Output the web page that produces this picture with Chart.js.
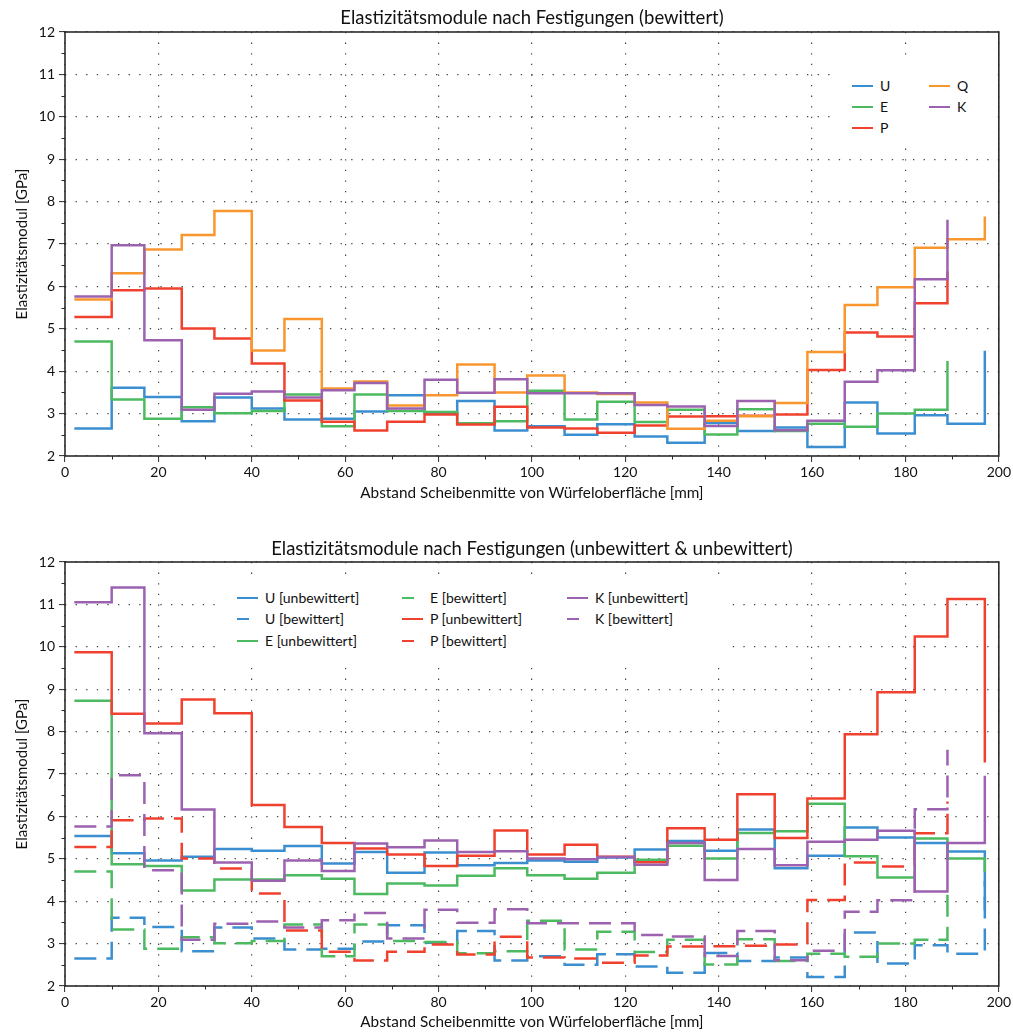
<!DOCTYPE html>
<html>
<head>
<meta charset="utf-8">
<script src="https://cdn.jsdelivr.net/npm/chart.js@4.4.1/dist/chart.umd.min.js"></script>
<style>
  body { margin: 0; background: #fff; font-family: Lato, "Open Sans", sans-serif; }
  #wrap { position: relative; width: 1013px; height: 1032px; overflow: hidden; }
  .pane { position: absolute; left: 0; width: 1013px; height: 516px; }
  .legbox { position: absolute; background: #fff; }
  .sw { position: absolute; height: 0; }
  .lt { position: absolute; font-size: 14px; color: #111; white-space: nowrap; line-height: 16px; }
  .ttl { position: absolute; left: 232px; width: 600px; text-align: center; font-size: 18.5px; line-height: 22px; color: #111; white-space: nowrap; }
</style>
</head>
<body>
<div id="wrap">
  <div class="pane" style="top:0"><canvas id="chartTop" width="1013" height="516"></canvas></div>
  <div class="pane" style="top:516px"><canvas id="chartBottom" width="1013" height="516"></canvas></div>
  <div class="ttl" style="top:6px">Elastizitätsmodule nach Festigungen (bewittert)</div>
  <div class="ttl" style="top:537px">Elastizitätsmodule nach Festigungen (unbewittert &amp; unbewittert)</div>
  <div class="legbox" style="left:838px;top:62px;width:158px;height:80px"></div>
  <div class="legbox" style="left:222px;top:580px;width:510px;height:82px"></div>
  <div id="legends"></div>
</div>
<script>
// ===== Daten =====
// Scheibenposition (Beginn jeder Stufe) in mm
var xPos = [2, 10, 17, 25, 32, 40, 47, 55, 62, 69, 77, 84, 92, 99, 107, 114, 122, 129, 137, 144, 152, 159, 167, 174, 182, 189, 197];
var xTickLabels = [0, 20, 40, 60, 80, 100, 120, 140, 160, 180, 200];
var yTickLabels = [2, 3, 4, 5, 6, 7, 8, 9, 10, 11, 12];
var xMinor = [10, 30, 50, 70, 90, 110, 130, 150, 170, 190];
var yMinor = [2.5, 3.5, 4.5, 5.5, 6.5, 7.5, 8.5, 9.5, 10.5, 11.5];

// bewittert
var uBew = [2.65, 3.61, 3.39, 2.82, 3.38, 3.12, 2.86, 2.88, 3.05, 3.43, 3.02, 3.30, 2.60, 2.70, 2.50, 2.75, 2.46, 2.31, 2.78, 2.59, 2.67, 2.21, 3.26, 2.53, 2.96, 2.76, 4.48];
var eBew = [4.70, 3.33, 2.88, 3.15, 3.01, 3.06, 3.45, 2.70, 3.45, 3.06, 3.04, 2.77, 2.82, 3.54, 2.86, 3.28, 2.80, 3.09, 2.51, 3.10, 2.59, 2.76, 2.69, 3.00, 3.09, 4.24];
var pBew = [5.28, 5.91, 5.95, 5.01, 4.77, 4.18, 3.31, 2.81, 2.60, 2.81, 2.98, 2.74, 3.16, 2.67, 2.65, 2.55, 2.72, 2.93, 2.94, 2.95, 2.98, 4.03, 4.91, 4.82, 5.60, 6.35];
var qBew = [5.69, 6.31, 6.87, 7.21, 7.78, 4.49, 5.23, 3.59, 3.76, 3.19, 3.43, 4.16, 3.50, 3.90, 3.50, 3.46, 3.26, 2.64, 2.83, 2.94, 3.25, 4.45, 5.56, 5.98, 6.91, 7.11, 7.65];
var kBew = [5.76, 6.97, 4.73, 3.09, 3.47, 3.52, 3.38, 3.55, 3.72, 3.12, 3.80, 3.49, 3.81, 3.48, 3.48, 3.48, 3.20, 3.17, 2.71, 3.30, 2.61, 2.83, 3.75, 4.02, 6.17, 7.57];

// unbewittert
var uUnb = [5.54, 5.13, 4.96, 5.05, 5.23, 5.19, 5.30, 4.89, 5.16, 4.67, 5.15, 4.85, 4.90, 4.96, 4.93, 5.03, 5.22, 5.42, 5.19, 5.69, 4.78, 5.07, 5.74, 5.50, 5.37, 5.17, 3.79];
var eUnb = [8.73, 4.87, 4.83, 4.25, 4.51, 4.51, 4.61, 4.53, 4.17, 4.42, 4.37, 4.60, 4.78, 4.61, 4.53, 4.67, 4.98, 5.31, 5.01, 5.61, 5.65, 6.30, 5.06, 4.56, 5.48, 5.01, 4.69];
var pUnb = [9.87, 8.42, 8.19, 8.76, 8.43, 6.27, 5.75, 5.37, 5.24, 5.10, 4.83, 5.07, 5.67, 5.10, 5.33, 5.05, 4.92, 5.72, 5.45, 6.52, 5.49, 6.42, 7.94, 8.93, 10.24, 11.13, 7.27];
var kUnb = [11.05, 11.40, 7.96, 6.16, 4.91, 4.48, 4.96, 4.71, 5.36, 5.27, 5.43, 5.16, 5.18, 5.01, 4.99, 5.04, 4.86, 5.37, 4.50, 5.23, 4.85, 5.40, 5.45, 5.66, 4.23, 5.37, 6.96];

var COL = { U: '#3b8fd0', E: '#4dba62', P: '#f0412f', Q: '#f8962f', K: '#9c62b0' };
var FONT = 'Lato, "Open Sans", sans-serif';
var DASH = [22, 10];

// ===== Hilfsfunktionen =====
function pts(vals) {
  return vals.map(function(v, i) { return { x: xPos[i], y: v }; });
}

function ds(label, vals, color, dashed, idx) {
  return {
    label: label,
    data: pts(vals),
    borderColor: color,
    backgroundColor: color,
    borderWidth: 2.5,
    borderDash: dashed ? DASH : [],
    borderCapStyle: 'butt',
    pointRadius: 0,
    stepped: 'before',   // waagrecht bis zum nächsten Punkt, dann senkrecht
    fill: false,
    order: -idx          // spätere Serien oben
  };
}

// Rahmen + kleine Zwischenticks
var framePlugin = {
  id: 'frame',
  afterDraw: function(chart) {
    var a = chart.chartArea, ctx = chart.ctx;
    var xs = chart.scales.x, ys = chart.scales.y;
    ctx.save();
    ctx.strokeStyle = '#2b2b2b';
    ctx.lineWidth = 1;
    ctx.beginPath();
    xMinor.forEach(function(v) {
      var p = Math.round(xs.getPixelForValue(v)) + 0.5;
      ctx.moveTo(p, a.bottom); ctx.lineTo(p, a.bottom + 3.5);
    });
    yMinor.forEach(function(v) {
      var p = Math.round(ys.getPixelForValue(v)) + 0.5;
      ctx.moveTo(a.left - 3.5, p); ctx.lineTo(a.left, p);
    });
    ctx.stroke();
    ctx.lineWidth = 1.6;
    ctx.strokeRect(a.left, a.top, a.right - a.left, a.bottom - a.top);
    ctx.restore();
  }
};

function gridOpts() {
  return { color: '#444', lineWidth: 1.2, tickLength: 6, tickColor: '#2b2b2b', tickWidth: 1 };
}

function makeChart(id, datasets, padTop, axisH, xTitlePad) {
  return new Chart(document.getElementById(id), {
    type: 'line',
    data: { datasets: datasets },
    plugins: [framePlugin],
    options: {
      responsive: false,
      animation: false,
      layout: { padding: { left: 0, right: 14, top: padTop, bottom: 0 } },
      plugins: {
        legend: { display: false },
        tooltip: { enabled: false },
        title: { display: false }
      },
      scales: {
        x: {
          type: 'linear', min: 0, max: 200,
          afterBuildTicks: function(s) { s.ticks = xTickLabels.map(function(v) { return { value: v }; }); },
          afterFit: function(s) { s.height = axisH; },
          ticks: { color: '#111', font: { family: FONT, size: 14 }, padding: 2, maxRotation: 0 },
          grid: gridOpts(),
          border: { display: false, dash: [1.3, 9.3] },
          title: {
            display: true, text: 'Abstand Scheibenmitte von Würfeloberfläche [mm]', color: '#111',
            font: { family: FONT, size: 15.3 }, padding: { top: 0, bottom: xTitlePad }
          }
        },
        y: {
          type: 'linear', min: 2, max: 12,
          afterBuildTicks: function(s) { s.ticks = yTickLabels.map(function(v) { return { value: v }; }); },
          afterFit: function(s) { s.width = 65; },
          ticks: { color: '#111', font: { family: FONT, size: 14 }, padding: 4 },
          grid: gridOpts(),
          border: { display: false, dash: [1.3, 9.3] },
          title: {
            display: true, text: 'Elastizitätsmodul [GPa]', color: '#111',
            font: { family: FONT, size: 15 }, padding: { top: 13, bottom: 0 }
          }
        }
      }
    }
  });
}

// ===== Diagramme =====
makeChart('chartTop', [
  ds('U', uBew, COL.U, false, 0),
  ds('E', eBew, COL.E, false, 1),
  ds('P', pBew, COL.P, false, 2),
  ds('Q', qBew, COL.Q, false, 3),
  ds('K', kBew, COL.K, false, 4)
], 32, 60, 14);

makeChart('chartBottom', [
  ds('U [unbewittert]', uUnb, COL.U, false, 0),
  ds('U [bewittert]', uBew, COL.U, true, 1),
  ds('E [unbewittert]', eUnb, COL.E, false, 2),
  ds('E [bewittert]', eBew, COL.E, true, 3),
  ds('P [unbewittert]', pUnb, COL.P, false, 4),
  ds('P [bewittert]', pBew, COL.P, true, 5),
  ds('K [unbewittert]', kUnb, COL.K, false, 6),
  ds('K [bewittert]', kBew, COL.K, true, 7)
], 46, 46, 1);

// ===== Legenden (HTML) =====
function legend(items, colX, rowY) {
  var host = document.getElementById('legends');
  items.forEach(function(it, i) {
    var c = Math.floor(i / 3), r = i % 3;
    var x = colX[c], y = rowY[r];
    var sw = document.createElement('div');
    sw.className = 'sw';
    sw.style.left = x + 'px';
    sw.style.top = (y - 1.25) + 'px';
    sw.style.width = (it.dashed ? 12 : 21) + 'px';
    sw.style.borderTop = '2.5px solid ' + it.color;
    host.appendChild(sw);
    var t = document.createElement('div');
    t.className = 'lt';
    t.style.left = (x + 28) + 'px';
    t.style.top = (y - 8) + 'px';
    t.textContent = it.label;
    host.appendChild(t);
  });
}

legend([
  { label: 'U', color: COL.U }, { label: 'E', color: COL.E }, { label: 'P', color: COL.P },
  { label: 'Q', color: COL.Q }, { label: 'K', color: COL.K }
], [852, 929], [86, 107, 128]);

legend([
  { label: 'U [unbewittert]', color: COL.U }, { label: 'U [bewittert]', color: COL.U, dashed: true },
  { label: 'E [unbewittert]', color: COL.E }, { label: 'E [bewittert]', color: COL.E, dashed: true },
  { label: 'P [unbewittert]', color: COL.P }, { label: 'P [bewittert]', color: COL.P, dashed: true },
  { label: 'K [unbewittert]', color: COL.K }, { label: 'K [bewittert]', color: COL.K, dashed: true }
], [237, 402, 567], [598, 619, 641]);
</script>
</body>
</html>
